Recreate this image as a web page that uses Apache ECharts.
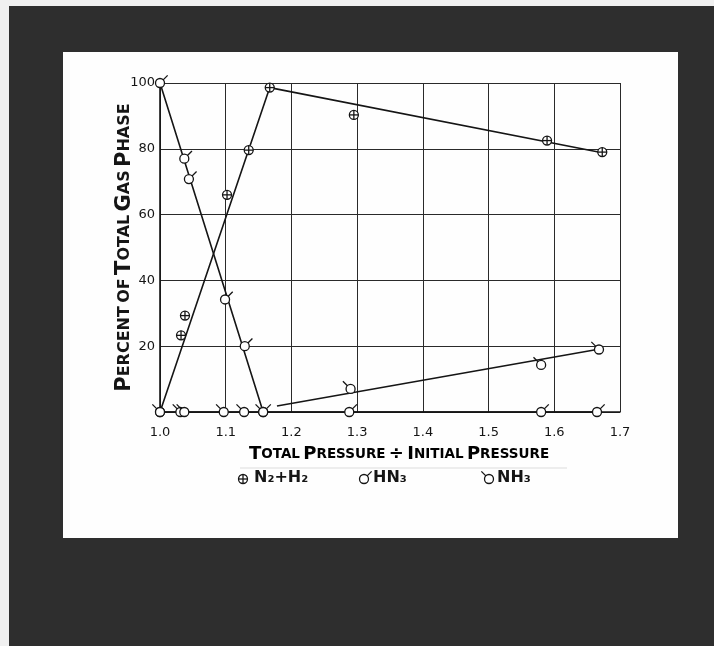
<!DOCTYPE html>
<html><head><meta charset="utf-8">
<script src="https://cdn.jsdelivr.net/npm/echarts@6/dist/echarts.min.js"></script>
<style>html,body{margin:0;padding:0;background:#2e2e2e}#c{width:714px;height:646px}</style>
</head><body><div id="c"></div><script>
// ---- data ----
const n2h2X = [1.0, 1.032, 1.038, 1.102, 1.135, 1.167, 1.295, 1.589, 1.673];
const n2h2Y = [0, 23.3, 29.3, 66, 79.6, 98.6, 90.3, 82.5, 79];
const hn3X  = [1.0, 1.037, 1.044, 1.099, 1.129, 1.157, 1.288, 1.58, 1.665];
const hn3Y  = [100, 77, 70.8, 34.2, 20, 0, 0, 0, 0];
const nh3X  = [1.0, 1.031, 1.037, 1.097, 1.128, 1.157, 1.29, 1.58, 1.668];
const nh3Y  = [0, 0, 0, 0, 0, 0, 7, 14.3, 19];
// drawn curves
const n2h2LineX = [1.0, 1.167, 1.673];
const n2h2LineY = [0, 98.6, 78.8];
const hn3LineX  = [1.0, 1.157, 1.665];
const hn3LineY  = [100, 0, 0];
const nh3BaseX  = [1.0, 1.157];
const nh3BaseY  = [0, 0];
const nh3FitX   = [1.178, 1.665];
const nh3FitY   = [1.8, 19];
// axes
const xMin = 1.0, xMax = 1.7, xStep = 0.1;
const yMin = 0, yMax = 100, yStep = 20;
const seriesNames = ['N\u2082+H\u2082', 'HN\u2083', 'NH\u2083'];

const INK = '#151515';
function zip(xs, ys){ return xs.map((x,i)=>[x, ys[i]]); }

function makeMark(cx, cy, kind){
  const r = 4.5, t = 4.5, d = r*0.7;
  const st = {stroke: INK, lineWidth: 1.3, fill: null};
  const ch = [{type:'circle', shape:{cx, cy, r}, style:{fill:'#fff', stroke: INK, lineWidth: 1.3}}];
  if (kind === 'plus') {
    ch.push({type:'line', shape:{x1:cx-r, y1:cy, x2:cx+r, y2:cy}, style: st});
    ch.push({type:'line', shape:{x1:cx, y1:cy-r, x2:cx, y2:cy+r}, style: st});
  } else if (kind === 'right') {
    ch.push({type:'line', shape:{x1:cx+d, y1:cy-d, x2:cx+d+t, y2:cy-d-t}, style: st});
  } else {
    ch.push({type:'line', shape:{x1:cx-d, y1:cy-d, x2:cx-d-t, y2:cy-d-t}, style: st});
  }
  return ch;
}
function markerSeries(name, xs, ys, kind){
  return {
    type:'custom', name, coordinateSystem:'cartesian2d', clip:false, z:6,
    data: zip(xs, ys), encode:{x:0, y:1},
    renderItem(params, api){
      const p = api.coord([api.value(0), api.value(1)]);
      return {type:'group', children: makeMark(p[0], p[1], kind)};
    }
  };
}
function lineSeries(xs, ys, w){
  return {type:'line', data: zip(xs, ys), symbol:'none', z:4, silent:true,
    lineStyle:{color: INK, width: w || 1.6}};
}

const capsRichX = {
  b: {fontFamily:'DejaVu Sans', fontSize:18, color: INK, fontWeight:'bold'},
  s: {fontFamily:'DejaVu Sans', fontSize:13.5, color: INK, fontWeight:'bold'}
};
const capsRichY = {
  b: {fontFamily:'DejaVu Sans', fontSize:21, color: INK, fontWeight:'bold'},
  s: {fontFamily:'DejaVu Sans', fontSize:16, color: INK, fontWeight:'bold'}
};

function legendMark(cx, cy, kind){ return {type:'group', children: makeMark(cx, cy, kind)}; }

const chart = echarts.init(document.getElementById('c'), null, {renderer:'canvas'});
chart.setOption({
  backgroundColor: '#2e2e2e',
  animation: false,
  grid: {left:160, right:94, top:83, bottom:234, containLabel:false},
  xAxis: {
    type:'value', min:xMin, max:xMax, interval:xStep,
    axisLine:{show:true, onZero:false, lineStyle:{color: INK, width:1.6}},
    axisTick:{show:false},
    splitLine:{show:true, lineStyle:{color:'#2a2a2a', width:1}},
    axisLabel:{margin:14, color: INK, fontFamily:'DejaVu Sans', fontSize:13,
      formatter: v => v.toFixed(1)}
  },
  yAxis: {
    type:'value', min:yMin, max:yMax, interval:yStep,
    axisLine:{show:true, onZero:false, lineStyle:{color: INK, width:1.6}},
    axisTick:{show:false},
    splitLine:{show:true, lineStyle:{color:'#2a2a2a', width:1}},
    axisLabel:{margin:5, color: INK, fontFamily:'DejaVu Sans', fontSize:13,
      formatter: v => v === 0 ? '' : String(v)},
    name: '{b|P}{s|ERCENT} {s|OF} {b|T}{s|OTAL} {b|G}{s|AS} {b|P}{s|HASE}',
    nameLocation:'middle', nameGap:25, nameRotate:90, nameMoveOverlap:false,
    nameTextStyle:{rich: capsRichY}
  },
  graphic: [
    {type:'rect', z:-10, shape:{x:0, y:0, width:714, height:6}, style:{fill:'#f0f0f0'}},
    {type:'rect', z:-10, shape:{x:0, y:0, width:9, height:646}, style:{fill:'#f0f0f0'}},
    {type:'rect', z:-10, shape:{x:63, y:52, width:615, height:486}, style:{fill:'#fefefe'}},
    {type:'line', z:-5, shape:{x1:240, y1:468, x2:567, y2:468}, style:{stroke:'#dcdcdc', lineWidth:1}},
    {type:'text', left:249, top:445, style:{
      text:'{b|T}{s|OTAL} {b|P}{s|RESSURE} {b|\u00f7} {b|I}{s|NITIAL} {b|P}{s|RESSURE}',
      rich: capsRichX}},
    legendMark(243, 479, 'plus'),
    {type:'text', left:254, top:470, style:{text: seriesNames[0], font:'bold 16px "DejaVu Sans"', fill: INK}},
    legendMark(364, 479, 'right'),
    {type:'text', left:373, top:470, style:{text: seriesNames[1], font:'bold 16px "DejaVu Sans"', fill: INK}},
    legendMark(489, 479, 'left'),
    {type:'text', left:497, top:470, style:{text: seriesNames[2], font:'bold 16px "DejaVu Sans"', fill: INK}}
  ],
  series: [
    lineSeries(n2h2LineX, n2h2LineY),
    lineSeries(hn3LineX, hn3LineY),
    lineSeries(nh3BaseX, nh3BaseY),
    lineSeries(nh3FitX, nh3FitY),
    markerSeries(seriesNames[0], n2h2X, n2h2Y, 'plus'),
    markerSeries(seriesNames[1], hn3X, hn3Y, 'right'),
    markerSeries(seriesNames[2], nh3X, nh3Y, 'left')
  ]
});
</script></body></html>
